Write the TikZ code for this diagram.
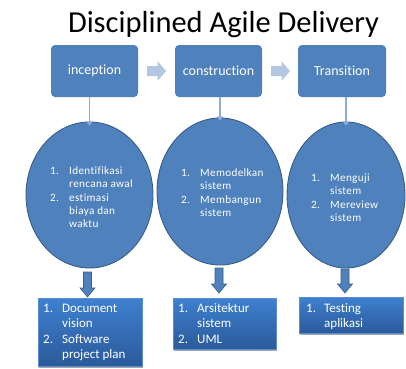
\documentclass[tikz,border=0pt]{standalone}
\usepackage{fontspec}
\setmainfont[Ligatures=NoCommon]{Carlito}
\newfontfamily\ellfont[LetterSpace=3,Ligatures=NoCommon]{Carlito}
\usetikzlibrary{shadows,arrows.meta,shapes.geometric}
\definecolor{ob}{HTML}{4F81BD}
\definecolor{obd}{HTML}{385D8A}
\definecolor{chev}{HTML}{B3C7E3}
\definecolor{thinc}{HTML}{8EAADB}
\definecolor{gtop}{HTML}{3E80D0}
\definecolor{gbot}{HTML}{2B5A9A}
\definecolor{gedge}{HTML}{5A8CD2}
\newcommand\blkarrow[3]{%
  \filldraw[fill=ob,draw=obd,line width=0.6pt] (#1-4,#2) -- (#1+4,#2) -- (#1+4,#3-9) -- (#1+7.5,#3-9) -- (#1,#3) -- (#1-7.5,#3-9) -- (#1-4,#3-9) -- cycle;}
\newcommand\chevarrow[2]{%
  \fill[chev] (#1,66) -- (#1+10.5,66) -- (#1+10.5,61) -- (#2,71) -- (#1+10.5,81) -- (#1+10.5,76) -- (#1,76) -- cycle;}
\begin{document}
\begin{tikzpicture}[x=1pt,y=-1pt,
  topbox/.style={fill=ob,rounded corners=4pt,minimum width=87pt,minimum height=52pt,inner sep=0pt,text=white,font=\fontsize{14}{16}\selectfont},
  ell/.style={ellipse,fill=ob,draw=obd,line width=0.9pt,inner sep=0pt},
  ltext/.style={anchor=base west,inner sep=0pt,text=white,font=\ellfont\fontsize{11.2}{13}\selectfont},
  btext/.style={anchor=base west,inner sep=0pt,text=white,font=\fontsize{13}{15.5}\selectfont},
  botbox/.style={top color=gtop,bottom color=gbot,draw=gedge,line width=0.5pt,inner sep=0pt,minimum width=104pt,
    drop shadow={shadow xshift=1pt,shadow yshift=-2pt,opacity=0.35,fill=black}},
  thinarr/.style={draw=thinc,line width=1.4pt,-{Straight Barb[length=3pt,width=5pt]}}
]
\useasboundingbox (0,0) rectangle (406,368);
% title
\node[anchor=base,inner sep=0pt,font=\fontsize{30.5}{36}\selectfont] (title) at (223.5,32) {Disciplined Agile Delivery};
% top boxes
\node[topbox] (inc) at (94.5,71) {inception};
\node[topbox] (con) at (218.5,71) {construction};
\node[topbox,minimum width=88pt] (tra) at (342,71) {Transition};
\chevarrow{147}{166}
\chevarrow{271}{290}
% ellipses
\node[ell,minimum width=127pt,minimum height=146pt] (e1) at (89.5,195) {};
\node[ell,minimum width=126pt,minimum height=147pt] (e2) at (220,191.5) {};
\node[ell,minimum width=118pt,minimum height=146pt] (e3) at (346,195) {};
% thin arrows
\draw[thinarr] (e1.north |- inc.south) -- ([yshift=-4pt]e1.north);
\draw[thinarr] (e2.north |- con.south) -- ([yshift=-3pt]e2.north);
\draw[thinarr] (e3.north |- tra.south) -- ([yshift=-4pt]e3.north);
% ellipse texts
\node[ltext] (t1) at (50,174) {\begin{tabular}[t]{@{}p{19pt}@{}l@{}}1.&Identifikasi\\&rencana awal\\[1.5pt]2.&estimasi\\&biaya dan\\&waktu\end{tabular}};
\node[ltext] (t2) at (181,176) {\begin{tabular}[t]{@{}p{19pt}@{}l@{}}1.&Memodelkan\\&sistem\\[1.5pt]2.&Membangun\\&sistem\end{tabular}};
\node[ltext] (t3) at (311,181) {\begin{tabular}[t]{@{}p{19pt}@{}l@{}}1.&Menguji\\&sistem\\[1.5pt]2.&Mereview\\&sistem\end{tabular}};
% bottom boxes
\node[botbox,minimum height=68pt] (b1) at (90,332) {};
\node[botbox,minimum width=103pt,minimum height=51pt] (b2) at (224.5,323.5) {};
\node[botbox,minimum height=36pt] (b3) at (351,315) {};
\node[btext] (s1) at (43,312) {\begin{tabular}[t]{@{}p{19pt}@{}l@{}}1.&Document\\&vision\\2.&Software\\&project plan\end{tabular}};
\node[btext] (s2) at (178,312) {\begin{tabular}[t]{@{}p{19pt}@{}l@{}}1.&Arsitektur\\&sistem\\2.&UML\end{tabular}};
\node[btext] (s3) at (306,312) {\begin{tabular}[t]{@{}p{18pt}@{}l@{}}1.&Testing\\&aplikasi\end{tabular}};
% block arrows
\blkarrow{87.5}{272}{297}
\blkarrow{219}{268}{293}
\blkarrow{345}{269}{293}
\end{tikzpicture}
\end{document}
